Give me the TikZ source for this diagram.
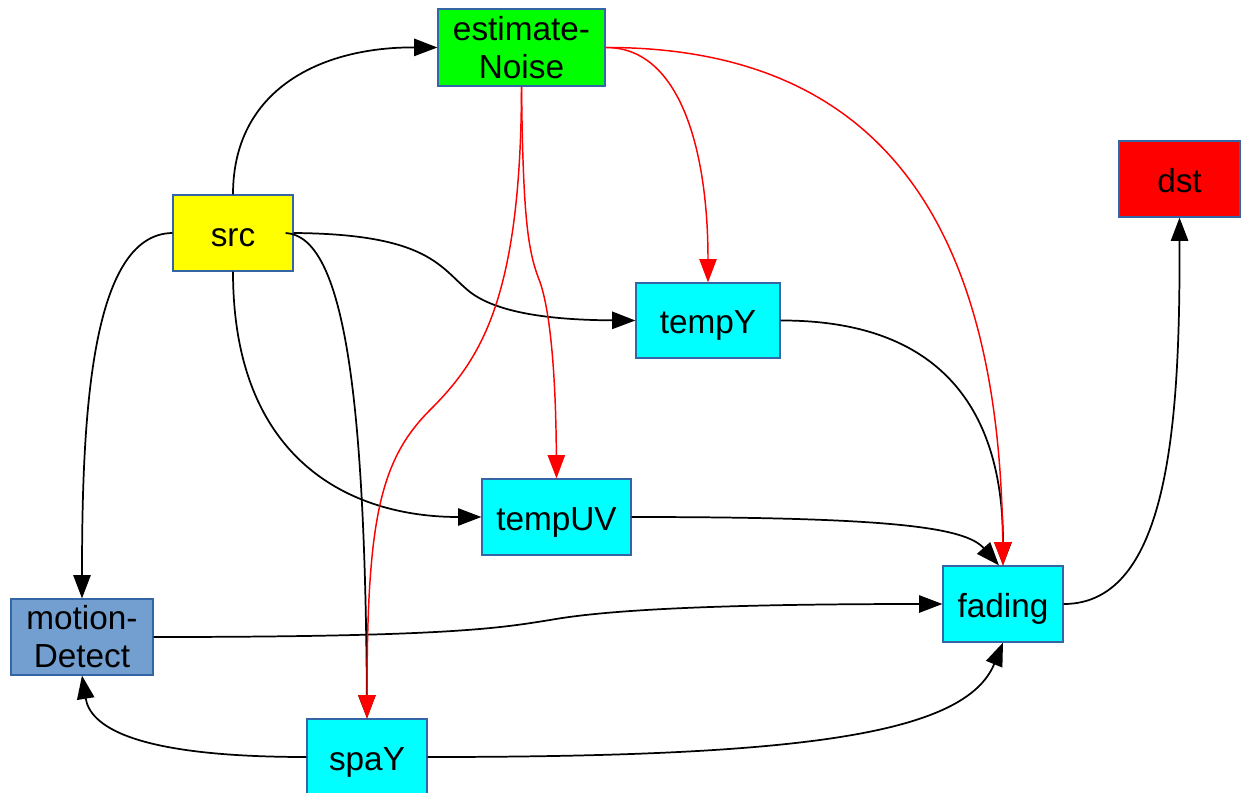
\documentclass[tikz,border=0pt]{standalone}
\usepackage{fontspec}
\setmainfont{Liberation Sans}
\usetikzlibrary{arrows.meta}
\definecolor{edgeblue}{HTML}{3465A4}
\definecolor{steel}{HTML}{729FCF}
\definecolor{aqua}{HTML}{00FFFF}
\definecolor{lime}{HTML}{00FF00}
\definecolor{pure red}{HTML}{FF0000}
\definecolor{pure yellow}{HTML}{FFFF00}
\begin{document}
\begin{tikzpicture}[x=0.75pt,y=-0.75pt,
  box/.style={draw=edgeblue,line width=0.9pt,inner sep=0pt,align=center,
    font=\fontsize{25}{28.5}\selectfont},
  oneline/.style={text height=22.5pt,text depth=3pt},
  blk/.style={draw=black,line width=1.3pt,-{Triangle[length=17.5pt,width=13pt]}},
  redl/.style={draw=pure red,line width=1.1pt,-{Triangle[length=17.5pt,width=13pt]}}]
\useasboundingbox (0,0) rectangle (1244,792);
% nodes
\node[box,fill=lime,minimum width=125.25pt,minimum height=57.75pt] (est) at (521.5,47.5) {estimate-\\Noise};
\node[box,oneline,fill=pure yellow,minimum width=90pt,minimum height=57pt] (src) at (233,233) {src};
\node[box,oneline,fill=pure red,minimum width=90.75pt,minimum height=57pt] (dst) at (1179.5,179) {dst};
\node[box,oneline,fill=aqua,minimum width=108pt,minimum height=56.25pt] (tempY) at (708,320.5) {tempY};
\node[box,oneline,fill=aqua,minimum width=111.75pt,minimum height=57pt] (tempUV) at (556.5,517) {tempUV};
\node[box,oneline,fill=aqua,minimum width=90pt,minimum height=57pt] (fading) at (1003,604) {fading};
\node[box,fill=steel,minimum width=106.5pt,minimum height=57pt] (md) at (82,637) {motion-\\Detect};
\node[box,oneline,fill=aqua,minimum width=90pt,minimum height=57pt] (spaY) at (367,757) {spaY};
% black connectors
\draw[blk] (src.north) .. controls (233,90) and (320,47) .. (est.west);
\draw[blk] (src.west) .. controls (90,234) and (82,420) .. (md.north);
\draw[blk] (src.east) .. controls (430,234) and (440,268) .. (470,292) .. controls (500,315) and (560,320) .. (tempY.west);
\draw[blk] (src.south) .. controls (233,460) and (350,517) .. (tempUV.west);
\draw[blk] ([xshift=-6]src.east) .. controls (345,236) and (365,400) .. (spaY.north);
\draw[blk] (tempY.east) .. controls (950,320) and (1003,420) .. (fading.north);
\draw[blk] (tempUV.east) .. controls (890,517) and (965,527) .. ([xshift=-3]fading.north);
\draw[blk] (md.east) .. controls (450,637) and (500,628) .. (550,620) .. controls (600,611) and (700,604) .. (fading.west);
\draw[blk] (spaY.west) .. controls (130,757) and (90,725) .. (md.south);
\draw[blk] (spaY.east) .. controls (800,757) and (965,735) .. (fading.south);
\draw[blk] (fading.east) .. controls (1170,604) and (1180,420) .. (dst.south);
% red connectors
\draw[redl] (est.south) .. controls (521,300) and (480,360) .. (430,410) .. controls (380,460) and (367,520) .. (spaY.north);
\draw[redl] (est.south) .. controls (523,220) and (528,252) .. (540,282) .. controls (553,320) and (556,400) .. (tempUV.north);
\draw[redl] (est.east) .. controls (680,47) and (708,150) .. (tempY.north);
\draw[redl] (est.east) .. controls (900,47) and (1000,250) .. (fading.north);
\end{tikzpicture}
\end{document}
